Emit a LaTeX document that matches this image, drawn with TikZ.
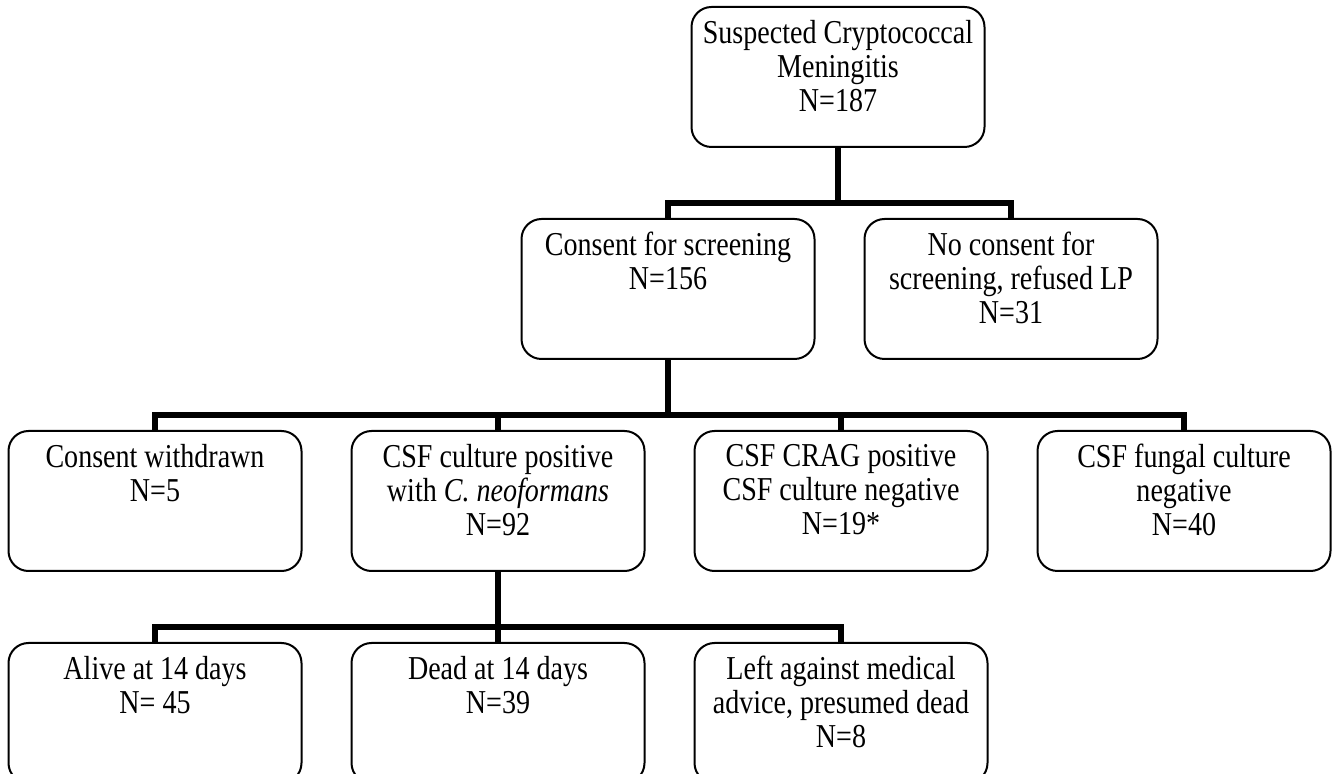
\documentclass[tikz,border=0pt]{standalone}
\usepackage{fontspec}
\setmainfont{Liberation Serif}[FakeStretch=0.84]
\usetikzlibrary{positioning}
\begin{document}
\begin{tikzpicture}[node distance={35pt and 24pt}, font=\fontsize{16.7}{17}\selectfont,
  box/.style = {draw, line width=1pt, rounded corners=10pt, inner sep=0pt,
    execute at begin node={\begin{minipage}[t][70pt][t]{146.5pt}\centering\vspace*{6.6pt}},
    execute at end node={\end{minipage}}},
  link/.style = {line width=3pt}]
\useasboundingbox (0,0) rectangle (667pt,-387pt);
\node[box] (suspect) at (419pt,-38.5pt) {Suspected Cryptococcal\\Meningitis\\N=187};
\node[box] (consent) [below=of suspect, xshift=-85pt] {Consent for screening\\N=156};
\node[box] (noconsent) [right=of consent] {No consent for\\screening, refused LP\\N=31};
\node[box] (culturepos) [below=of consent, xshift=-85pt] {CSF culture positive\\with \textit{C. neoformans}\\N=92};
\node[box] (withdrawn) [left=of culturepos] {Consent withdrawn\\N=5};
\node[box] (cragpos) [right=of culturepos] {CSF CRAG positive\\CSF culture negative\\N=19*};
\node[box] (fungalneg) [right=of cragpos] {CSF fungal culture\\negative\\N=40};
\node[box] (dead) [below=of culturepos] {Dead at 14 days\\N=39};
\node[box] (alive) [left=of dead] {Alive at 14 days\\N= 45};
\node[box] (lama) [right=of dead] {Left against medical\\advice, presumed dead\\N=8};
% junctions above each row
\coordinate[above=7.5pt of consent] (j1);
\coordinate[above=7.5pt of culturepos] (j2);
\coordinate[above=7.5pt of dead] (j3);
\draw[link] (suspect.south) -- (suspect.south |- j1);
\draw[link] (consent.north) -- (j1) -| (noconsent.north);
\draw[link] (consent.south) -- (consent.south |- j2);
\draw[link] (withdrawn.north) |- (j2) -| (fungalneg.north);
\draw[link] (culturepos.north) -- (j2);
\draw[link] (cragpos.north) -- (cragpos.north |- j2);
\draw[link] (culturepos.south) -- (culturepos.south |- j3);
\draw[link] (alive.north) |- (j3) -| (lama.north);
\draw[link] (dead.north) -- (j3);
\end{tikzpicture}
\end{document}
